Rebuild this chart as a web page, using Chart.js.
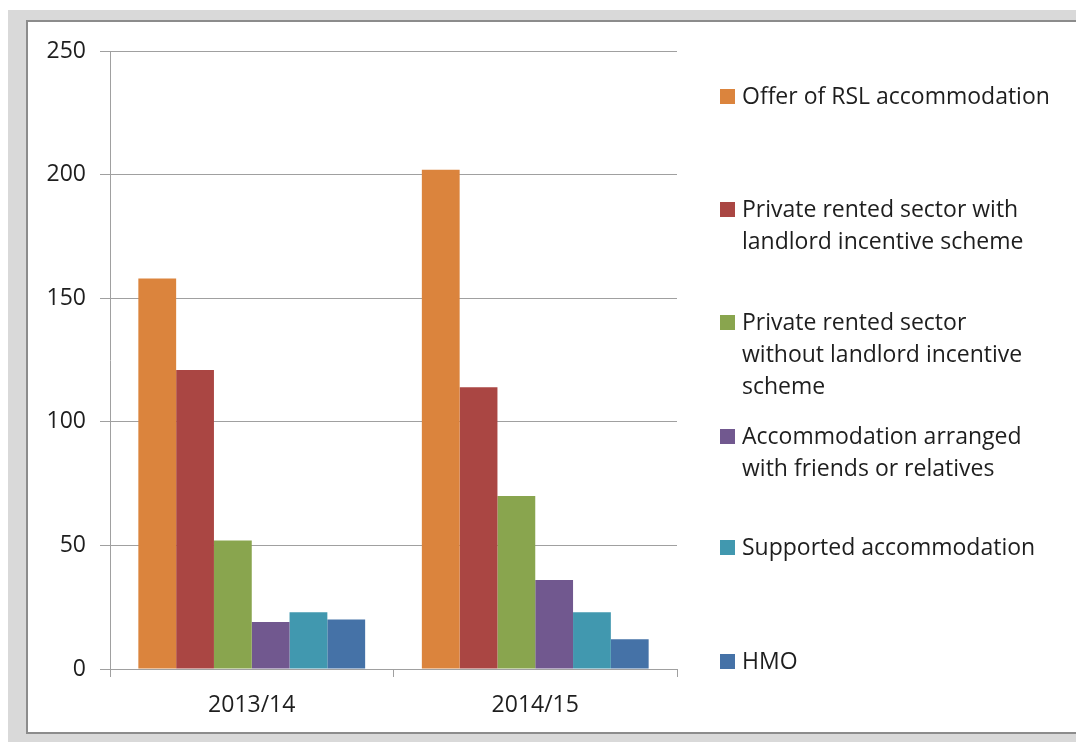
<!DOCTYPE html>
<html>
<head>
<meta charset="utf-8">
<script src="https://cdn.jsdelivr.net/npm/chart.js@4"></script>
<style>
  body { margin: 0; background: #fff; width: 1076px; height: 742px; overflow: hidden; position: relative; }
  #frame { position: absolute; left: 8px; top: 10px; width: 1100px; height: 760px; background: #d9d9d9; }
  #box { position: absolute; left: 26px; top: 20px; width: 1100px; height: 714px; background: #fff; border: 2px solid #8c8c8c; box-sizing: border-box; }
  #wrap { position: absolute; left: 0; top: 0; width: 1076px; height: 742px; }
</style>
</head>
<body>
<div id="frame"></div>
<div id="box"></div>
<div id="wrap"><canvas id="chart"></canvas></div>
<script>
var years = ['2013/14', '2014/15'];
var seriesNames = [
  'Offer of RSL accommodation',
  'Private rented sector with landlord incentive scheme',
  'Private rented sector without landlord incentive scheme',
  'Accommodation arranged with friends or relatives',
  'Supported accommodation',
  'HMO'
];
// legend text broken the same way as the picture
var legendLines = [
  ['Offer of RSL accommodation'],
  ['Private rented sector with', 'landlord incentive scheme'],
  ['Private rented sector', 'without landlord incentive', 'scheme'],
  ['Accommodation arranged', 'with friends or relatives'],
  ['Supported accommodation'],
  ['HMO']
];
var rsl = [158, 202];
var prsWith = [121, 114];
var prsWithout = [52, 70];
var friends = [19, 36];
var supported = [23, 23];
var hmo = [20, 12];
var colors = ['#DB843D', '#AA4643', '#89A54E', '#71588F', '#4198AF', '#4572A7'];
var yTicks = [0, 50, 100, 150, 200, 250];

var FONT = '"Open Sans", "DejaVu Sans", sans-serif';
var seriesValues = [rsl, prsWith, prsWithout, friends, supported, hmo];

var datasets = seriesValues.map(function(vals, i) {
  return {
    label: seriesNames[i],
    data: vals,
    backgroundColor: colors[i],
    borderWidth: 0,
    categoryPercentage: 0.8,
    barPercentage: 1.0
  };
});

// draws the legend on the right like the excel one
var sideLegend = {
  id: 'sideLegend',
  afterDraw: function(chart) {
    var ctx = chart.ctx;
    var firstLineY = [97, 210, 323, 437, 548, 662];
    ctx.save();
    ctx.font = '23px ' + FONT;
    ctx.textBaseline = 'middle';
    ctx.textAlign = 'left';
    chart.data.datasets.forEach(function(ds, i) {
      var y = firstLineY[i];
      ctx.fillStyle = ds.backgroundColor;
      ctx.fillRect(720, y - 8, 15, 15);
      ctx.fillStyle = '#1e1e1e';
      legendLines[i].forEach(function(line, j) {
        ctx.fillText(line, 742, y + j * 32);
      });
    });
    ctx.restore();
  }
};

var c1 = document.getElementById('chart').getContext('2d');
new Chart(c1, {
  type: 'bar',
  data: {
    labels: years,
    datasets: datasets
  },
  options: {
    responsive: true,
    maintainAspectRatio: false,
    animation: false,
    layout: { padding: { top: 51, right: 399, left: 0, bottom: 0 } },
    plugins: {
      legend: { display: false },
      tooltip: { enabled: false }
    },
    scales: {
      x: {
        grid: { offset: true, drawOnChartArea: false, drawTicks: true, tickLength: 8, color: '#a0a0a0' },
        border: { color: '#a0a0a0', width: 1 },
        ticks: { color: '#1e1e1e', font: { family: FONT, size: 23 }, padding: 15 },
        afterFit: function(scale) { scale.height = 73; }
      },
      y: {
        min: 0,
        max: 250,
        afterBuildTicks: function(scale) {
          scale.ticks = yTicks.map(function(v) { return { value: v }; });
        },
        grid: { color: '#a0a0a0', tickLength: 10 },
        border: { color: '#a0a0a0', width: 1 },
        ticks: { color: '#1e1e1e', font: { family: FONT, size: 23 }, padding: 14 },
        afterFit: function(scale) { scale.width = 110; }
      }
    }
  },
  plugins: [sideLegend]
});
</script>
</body>
</html>
